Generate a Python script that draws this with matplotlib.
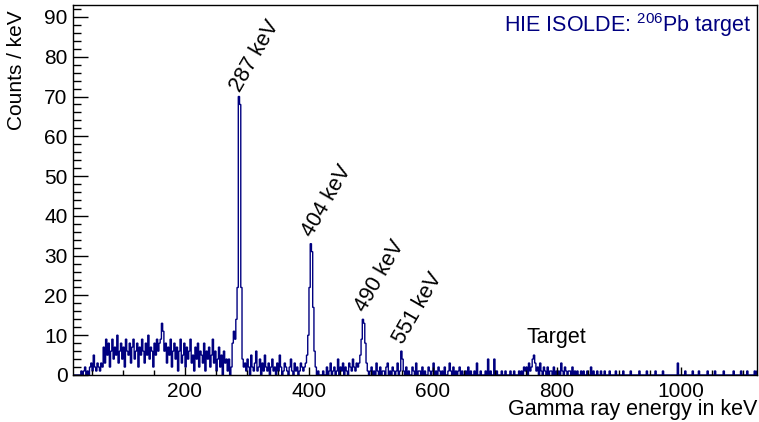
import matplotlib.pyplot as plt
from matplotlib.ticker import MultipleLocator
import numpy as np

plt.rcParams['font.family'] = ['Liberation Sans', 'DejaVu Sans']
plt.rcParams['mathtext.default'] = 'regular'

# 2 keV bins starting at 20 keV
bin_start = 20
bin_width = 2

bg_20 = [0, 0, 0, 0, 0, 0, 1, 0, 1, 2, 0, 1, 0, 2, 3, 1, 5, 2, 1, 3, 2, 1, 3, 2]
bg_68 = [7, 3, 9, 5, 8, 2, 6, 9, 4, 7, 5, 10, 3, 6, 8, 4, 7, 2, 9, 6, 5, 8, 3, 7, 9, 4,
         6, 8, 2, 7, 5, 9, 6, 3, 8, 5, 10, 4, 7, 6, 2, 8, 5, 9, 6, 8]
bump_163 = [9, 13, 11, 6]
bg_168 = [8, 3, 7, 5, 9, 2, 6, 8, 4, 7, 1, 6, 9, 3, 5, 8, 2, 7, 4, 6, 9, 3, 5, 1, 7, 4, 8,
          2, 6, 5, 3, 8, 1, 6, 4, 7, 2, 5, 9, 3, 6, 1, 4, 7, 2, 5, 0, 6, 3, 4, 1, 4, 0, 2]
peak_287 = [8, 11, 9, 14, 22, 70, 68, 22, 4, 2]
bg_296 = [3, 1, 4, 2, 0, 5, 2, 1, 3, 6, 1, 2, 4, 0, 3, 1, 5, 2, 1, 3, 0, 2, 4, 1, 2, 0,
          3, 1, 5, 2, 0, 1, 3, 2, 1, 0, 2, 4, 1, 0, 3, 1, 2, 0, 1, 3, 2, 1]
peak_404 = [2, 3, 5, 10, 22, 33, 31, 17, 6, 2]
bg_412 = [0, 1, 0, 0, 0, 1, 0, 0, 2, 0, 1, 3, 0, 1, 2, 0, 1, 4, 0, 2, 1, 3, 0, 2, 1, 0,
          3, 2, 1, 4, 2, 1, 3, 2]
peak_490 = [3, 5, 9, 14, 13, 8, 3, 1]
bg_496 = [0, 1, 2, 0, 1, 0, 3, 1, 0, 2, 0, 1, 1, 0, 2, 3, 0, 1, 0, 2, 1, 0, 1, 3, 0, 1]
peak_551 = [6, 4]
bg_552 = [1, 0, 2, 0, 1, 0, 0, 2, 1, 0, 3, 0, 1, 1, 0, 2, 0, 1, 0, 0,
          2, 1, 0, 1, 3, 0, 1, 0, 2, 1, 0, 1, 0, 2, 0, 0, 1, 3, 1, 0,
          2, 0, 1, 0, 1, 2, 0, 1, 0, 0, 1, 0, 2, 0, 1, 0, 0, 1, 0, 3,
          0, 0, 1, 0, 0, 0, 1, 0, 4, 0, 1, 0, 0, 4, 0, 1, 0, 0, 0, 1,
          0, 0, 1, 0, 0, 0, 1, 0, 0, 1, 0, 0, 0, 1, 0, 1, 0, 2]
target_peak = [1, 2, 0, 3, 1, 2, 4, 5, 3, 1, 2, 0, 3, 1, 0, 2]
bg_780 = [1, 0, 2, 0, 1, 1, 0, 2, 0, 1, 0, 1, 0, 3, 1, 0, 2, 1, 0, 1,
          1, 0, 2, 0, 1, 0, 1, 0, 0, 1, 0, 1, 0, 0, 1, 0, 0, 2, 0, 1,
          0, 0, 1, 0, 0, 1, 0, 0, 1, 0]
bg_880 = [0, 0, 1, 0, 0, 0, 0, 1, 0, 0, 0, 0, 0, 1, 0, 0, 0, 0, 0, 1,
          0, 0, 0, 0, 0, 0, 1, 0, 0, 0, 0, 0, 1, 0, 0, 0, 0, 0, 0, 1,
          0, 0, 0, 0, 0, 1, 0, 0, 0, 0, 0, 0, 0, 0, 0, 0, 0, 3, 0, 0,
          0, 0, 0, 1, 0, 0, 0, 0, 0, 1, 0, 0, 0, 0, 1, 0, 0, 0, 0, 0,
          0, 1, 0, 0, 0, 0, 0, 1, 0, 0, 0, 0, 0, 0, 1, 0, 0, 0, 0, 0,
          0, 0, 1, 0, 0, 0, 0, 0, 1, 0, 0, 0, 0, 1, 0, 0, 0, 0, 0, 1,
          0, 1]

counts = np.array(bg_20 + bg_68 + bump_163 + bg_168 + peak_287 + bg_296 + peak_404
                  + bg_412 + peak_490 + bg_496 + peak_551 + bg_552 + target_peak
                  + bg_780 + bg_880)
edges = bin_start + bin_width * np.arange(len(counts) + 1)

peak_labels = ['287 keV', '404 keV', '490 keV', '551 keV']
peak_label_pos = [(288, 71), (405, 34.5), (490, 15.6), (551, 7.5)]

navy = '#000080'

fig = plt.figure(figsize=(7.59, 4.22), dpi=100)
ax = fig.add_axes([73 / 759, 1 - 375 / 422, (757 - 73) / 759, (375 - 5) / 422])

ax.stairs(counts, edges, color=navy, lw=1.0)

ax.set_xlim(19.4, 1122.6)
ax.set_ylim(0, 93)

ax.xaxis.set_major_locator(MultipleLocator(200))
ax.xaxis.set_minor_locator(MultipleLocator(50))
ax.yaxis.set_major_locator(MultipleLocator(10))
ax.yaxis.set_minor_locator(MultipleLocator(2))
ax.tick_params(axis='both', which='both', direction='in', labelsize=15, width=1)
ax.tick_params(axis='x', which='major', length=6, pad=5)
ax.tick_params(axis='x', which='minor', length=3.5)
ax.tick_params(axis='y', which='major', length=11, pad=4)
ax.tick_params(axis='y', which='minor', length=6)
for s in ax.spines.values():
    s.set_linewidth(1)

for lab, (x, y) in zip(peak_labels, peak_label_pos):
    ax.text(x, y, lab, rotation=60, rotation_mode='anchor', ha='left', va='baseline',
            fontsize=15.5)

ax.text(799, 8.0, 'Target', ha='center', va='baseline', fontsize=15.5)

fig.text(752 / 759, 1 - 32 / 422, r'HIE ISOLDE: $^{206}$Pb target', ha='right',
         va='baseline', fontsize=15.5, color=navy)
fig.text(17 / 759, 1 - 10 / 422, 'Counts / keV', rotation=90, ha='center', va='top',
         fontsize=15)
fig.text(757 / 759, 1 - 415 / 422, 'Gamma ray energy in keV', ha='right', va='baseline',
         fontsize=15.5)

fig.savefig('out.png', dpi=100)
